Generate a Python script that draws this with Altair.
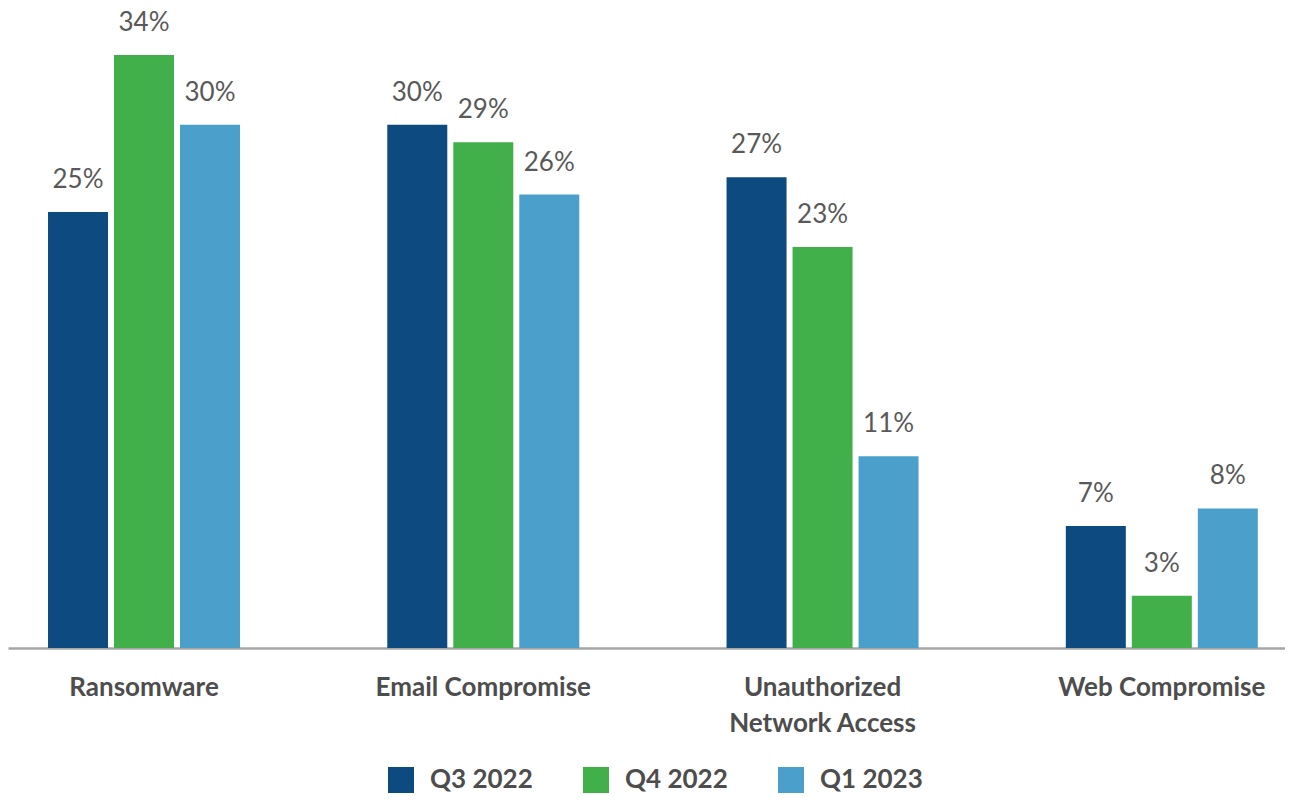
import altair as alt
import pandas as pd

categories = ["Ransomware", "Email Compromise", "Unauthorized Network Access", "Web Compromise"]
quarters = ["Q3 2022", "Q4 2022", "Q1 2023"]
q3_2022 = [25, 30, 27, 7]
q4_2022 = [34, 29, 23, 3]
q1_2023 = [30, 26, 11, 8]
colors = ["#0C4A7F", "#42B04A", "#4AA0CA"]

rows = []
for q, vals in zip(quarters, [q3_2022, q4_2022, q1_2023]):
    for c, v in zip(categories, vals):
        rows.append({"category": c, "quarter": q, "value": v, "label": f"{v}%"})
df = pd.DataFrame(rows)

FONT = "Lato"

x = alt.X(
    "category:N",
    sort=categories,
    title=None,
    scale=alt.Scale(paddingInner=0.322, paddingOuter=0.043, align=0.72),
    axis=alt.Axis(
        labelAngle=0,
        ticks=False,
        grid=False,
        domainColor="#A6A6A6",
        domainWidth=2.5,
        labelFont=FONT,
        labelFontSize=26,
        labelFontWeight="bold",
        labelColor="#4D4D4D",
        labelPadding=26,
        labelLineHeight=36,
        labelLimit=0,
        labelExpr="datum.label == 'Unauthorized Network Access' ? ['Unauthorized', 'Network Access'] : datum.label",
    ),
)
xoff = alt.XOffset(
    "quarter:N",
    sort=quarters,
    scale=alt.Scale(paddingInner=0.0909, paddingOuter=0.288),
)
y = alt.Y(
    "value:Q",
    scale=alt.Scale(domain=[0, 36.7], nice=False),
    axis=None,
)

bars = alt.Chart(df).mark_bar().encode(
    x=x,
    xOffset=xoff,
    y=y,
    color=alt.Color(
        "quarter:N",
        sort=quarters,
        scale=alt.Scale(domain=quarters, range=colors),
        legend=alt.Legend(
            title=None,
            orient="none",
            direction="horizontal",
            legendX=380,
            legendY=759,
            symbolType="square",
            symbolSize=676,
            symbolStrokeWidth=0,
            labelFont=FONT,
            labelFontSize=26,
            labelFontWeight="bold",
            labelColor="#4D4D4D",
            labelOffset=16,
            columnPadding=50,
            padding=0,
        ),
    ),
)

labels = alt.Chart(df).mark_text(
    baseline="alphabetic", dy=-24, font=FONT, fontSize=26, color="#595959"
).encode(
    x=x,
    xOffset=xoff,
    y=y,
    text="label:N",
)

chart = (
    alt.layer(bars, labels)
    .properties(width=1277, height=640, padding=0)
    .configure_view(stroke=None)
)

chart.save("out.html", embed_options={"renderer": "svg", "actions": False})
